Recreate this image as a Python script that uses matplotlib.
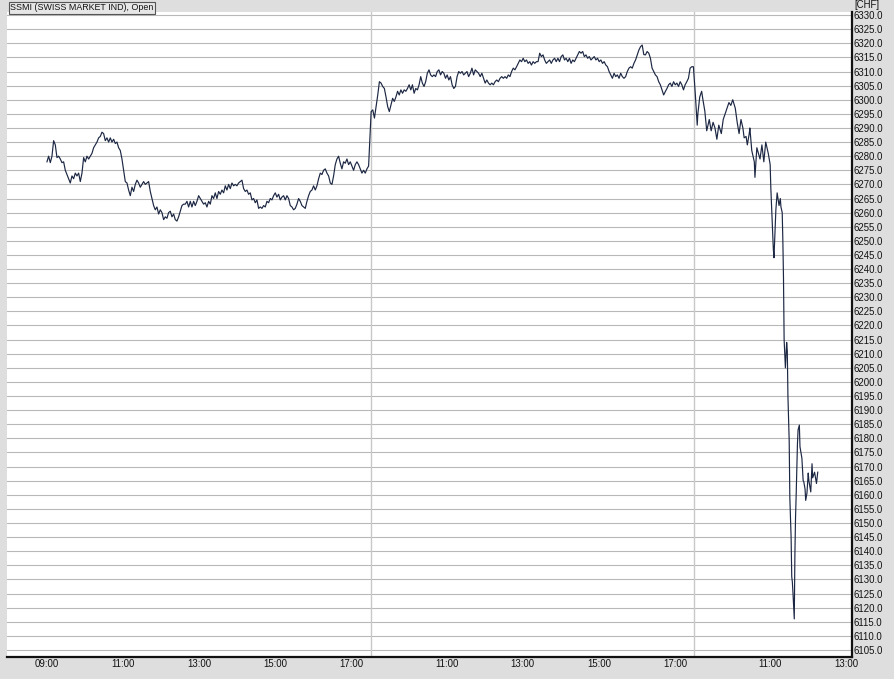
import numpy as np
import matplotlib
matplotlib.use('Agg')
import matplotlib.pyplot as plt

# SSMI, 3 trading sessions (09:00-17:30), intraday "Open" values
day1_open, day1_close = '09:00', '17:27'
day1_vals = [6278, 6280, 6277.7, 6280, 6285.5, 6284, 6279.5, 6280, 6279, 6277.7, 6278, 6275, 6273.5, 6272,
             6270.5, 6273, 6272, 6274, 6273, 6274, 6271, 6274, 6279.5, 6278, 6280, 6279, 6280, 6281, 6283, 6284,
             6285, 6286.5, 6287, 6288.5, 6288, 6285.5, 6286.5, 6285, 6286.5, 6285, 6286, 6284.5, 6285, 6283, 6282,
             6279, 6275, 6271, 6270.5, 6268, 6266, 6269, 6267.5, 6270, 6271.5, 6270.5, 6269, 6270, 6271, 6270,
             6270.5, 6271, 6267.5, 6265, 6262.5, 6261, 6262, 6259.5, 6261, 6260, 6257.5, 6258.5, 6258, 6260,
             6260.5, 6258.5, 6259.5, 6257.5, 6257, 6258.5, 6260.5, 6262.5, 6263, 6263, 6264, 6262, 6264, 6262,
             6264, 6262.5, 6264, 6266,
             6265, 6264, 6263, 6263.5, 6262, 6264, 6263, 6266, 6265, 6267, 6265, 6267.5, 6266.5, 6268, 6267,
             6269.5, 6268, 6270, 6268.5, 6270.5, 6269.5, 6270, 6269.5, 6270.5, 6271, 6271.5, 6268.5, 6267.5, 6268,
             6266.5, 6267, 6264.5, 6265, 6263.5, 6264.5, 6261.5, 6262, 6261.5, 6262.5, 6262, 6264, 6263.5, 6265,
             6264.5, 6266, 6267, 6265.5, 6266.5, 6264.5, 6265.5, 6266, 6264.5, 6266, 6265, 6262.5, 6262, 6261,
             6261.5, 6263, 6265, 6264, 6262.5, 6262, 6261.5, 6264, 6266, 6267.5, 6268, 6269.5, 6268, 6269.5, 6272,
             6274, 6273.5, 6275, 6275.5, 6274, 6273, 6270.5, 6270, 6273, 6277, 6279, 6280, 6277.5, 6275.5, 6278,
             6277.5, 6279, 6277, 6278, 6276.5, 6275, 6277, 6278, 6277, 6275.5, 6274, 6275, 6274, 6275.5, 6276.5]

day2_open, day2_close = '09:01', '17:29'
day2_vals = [6295.8, 6296.4, 6293.5, 6297.6, 6301.7, 6306.4, 6305.9, 6304.7, 6304, 6301, 6297.6, 6295.8,
             6298.2, 6300.5, 6299.4, 6301, 6303, 6301.7, 6303.5, 6302.3, 6303.5, 6303, 6304, 6305.3, 6303.5,
             6305.3, 6302.3, 6304, 6303.5, 6305.3, 6308.2, 6305.9, 6304.7, 6306.4, 6309.4, 6310.6, 6308.8, 6308.2,
             6308.8, 6308.2, 6310, 6310.6, 6308.8, 6310, 6309.4, 6307.6, 6308.8, 6307, 6308.2, 6305.3, 6304,
             6304.7, 6308.2, 6310, 6309.4, 6310, 6308.8, 6309.4, 6310, 6308.2, 6309.4, 6311.2, 6308.8, 6310.6,
             6310, 6309.4, 6308.2, 6309.4, 6307.6, 6305.9, 6307, 6305.9, 6305.3, 6305.9, 6305.3, 6306.4, 6307,
             6306.4, 6307.6, 6308.2, 6307.6, 6308.2, 6307.6, 6308.8, 6308.2, 6310, 6311.2, 6310.6, 6311.7, 6312.9,
             6314.1, 6313.5, 6314.7, 6313.5, 6314.1, 6312.9, 6313.5, 6312.3, 6313.5, 6312.9, 6313.5,
             6313.5, 6316.5, 6315.3, 6315.9, 6314.1, 6312.9, 6313.5, 6314.1, 6312.9, 6314.1, 6314.7, 6313.5,
             6314.7, 6313.5, 6315.3, 6315.9, 6314.1, 6314.7, 6313.5, 6314.7, 6312.9, 6314.1, 6313.5, 6314.7,
             6315.9, 6317.1, 6316.5, 6317.1, 6315.3, 6315.9, 6314.7, 6315.3, 6314.1, 6314.7, 6315.3, 6314.1,
             6314.7, 6313.5, 6314.1, 6312.9, 6313.5, 6312.3, 6311.7, 6310, 6308.8, 6307.6, 6309.4, 6308.2, 6308.8,
             6307.6, 6309.4, 6308.2, 6307.6, 6308.2, 6310, 6311.2, 6311.7, 6311.2, 6312.9, 6314.1, 6315.9, 6317.6,
             6318.8, 6319.4, 6316, 6315.9, 6317.1, 6316.5, 6314.7, 6311.2, 6310, 6308.8, 6308.2, 6306.4, 6305.3,
             6303.5, 6301.7, 6302.9, 6304, 6305.3, 6305.9, 6304.7, 6306.4, 6305.3, 6305.9, 6304.7, 6306.4, 6305.3,
             6303.5, 6305.3, 6306.4, 6307.6, 6311.2, 6311.7, 6311.7]

day3_times = ['09:02', '09:05', '09:06', '09:09', '09:12', '09:14', '09:17', '09:20', '09:24', '09:27',
              '09:30', '09:33', '09:36', '09:39', '09:43', '09:46', '09:49', '09:52', '09:55', '09:58',
              '10:01', '10:05', '10:08', '10:11', '10:14', '10:17', '10:19', '10:22', '10:24', '10:27',
              '10:28', '10:31', '10:35', '10:36', '10:39', '10:44', '10:47', '10:50', '10:53', '10:57',
              '11:00', '11:01', '11:03', '11:05', '11:06', '11:09', '11:11', '11:14', '11:16', '11:17',
              '11:19', '11:20', '11:21', '11:22', '11:24', '11:26', '11:27', '11:28', '11:30', '11:31',
              '11:33', '11:34', '11:35', '11:36', '11:38', '11:39', '11:40', '11:41', '11:43', '11:44',
              '11:46', '11:47', '11:50', '11:52', '11:53', '11:55', '11:56', '11:58', '12:00', '12:01',
              '12:04', '12:06', '12:07', '12:10', '12:13', '12:15']
day3_vals = [6302, 6291, 6295, 6301, 6303, 6300, 6296, 6289, 6293, 6289,
             6292, 6290, 6286, 6291, 6288, 6293, 6295, 6297, 6299, 6298,
             6300, 6297, 6292, 6288, 6293, 6290, 6286.5, 6287, 6284, 6288,
             6290, 6282, 6278, 6272.5, 6283, 6279, 6284, 6278, 6285, 6281,
             6277, 6269, 6258, 6247, 6244, 6261, 6267, 6262.5, 6265, 6262,
             6260, 6250, 6237, 6215, 6205, 6214, 6211, 6195, 6179, 6159,
             6145, 6131, 6129, 6125, 6116, 6139, 6152, 6160, 6178, 6183,
             6184.7, 6177, 6173, 6165, 6164.6, 6162, 6158, 6160.6, 6167.7, 6165,
             6161, 6171, 6166, 6168, 6164, 6168]

tick_days = [0, 0, 0, 0, 0, 1, 1, 1, 1, 2, 2]
tick_times = ['09:00', '11:00', '13:00', '15:00', '17:00', '11:00', '13:00', '15:00', '17:00', '11:00', '13:00']
y_ticks = np.arange(6105, 6331, 5)

SESSION = 8.5  # hours per trading day, gaps between sessions removed


def hrs(s):
    h, m = s.split(':')
    return int(h) + int(m) / 60.0


def tpos(day, s):
    return day * SESSION + hrs(s) - 9.0


t1 = np.linspace(tpos(0, day1_open), tpos(0, day1_close), len(day1_vals))
t2 = np.linspace(tpos(1, day2_open), tpos(1, day2_close), len(day2_vals))
t3 = np.array([tpos(2, s) for s in day3_times])
t = np.concatenate([t1, t2, t3])
v = np.concatenate([day1_vals, day2_vals, day3_vals])

plt.rcParams['font.family'] = ['Liberation Sans', 'DejaVu Sans']
fig = plt.figure(figsize=(8.94, 6.79), dpi=100, facecolor='#dedede')
ax = fig.add_axes([7 / 894, 1 - 657 / 679, 845 / 894, 645 / 679])
ax.set_facecolor('white')

for y in y_ticks:
    ax.axhline(y, color='#b8b8b8', lw=0.8, zorder=1)
for d in (1, 2):
    ax.axvline(d * SESSION, color='#c8c8c8', lw=1.0, zorder=1)

ax.plot(t, v, color='#1c2743', lw=0.85, zorder=3)

ax.set_xlim(-1.05, 21.15)
ax.set_ylim(6102.5, 6331.1)

ax.yaxis.tick_right()
ax.set_yticks(y_ticks)
ax.set_yticklabels(['%.1f' % y for y in y_ticks])
ax.set_xticks([tpos(d, s) for d, s in zip(tick_days, tick_times)])
ax.set_xticklabels(tick_times)
ax.tick_params(axis='both', length=0, labelsize=6.9, colors='#111111')
ax.tick_params(axis='y', pad=1.2)
ax.tick_params(axis='x', pad=1.2)

for side in ('left', 'top'):
    ax.spines[side].set_visible(False)
for side in ('right', 'bottom'):
    ax.spines[side].set_linewidth(1.6)
    ax.spines[side].set_color('#111111')

fig.text(854 / 894, 1 - 5 / 679, '[CHF]', fontsize=6.9, va='center', ha='left', color='#111111')
fig.text(10 / 894, 1 - 8 / 679, 'SSMI (SWISS MARKET IND), Open', fontsize=6.4, va='center', ha='left',
         color='#111111',
         bbox=dict(boxstyle='square,pad=0.15', facecolor='#e6e6e6', edgecolor='#555555', lw=0.8))

fig.savefig('out.png', dpi=100, facecolor=fig.get_facecolor())
